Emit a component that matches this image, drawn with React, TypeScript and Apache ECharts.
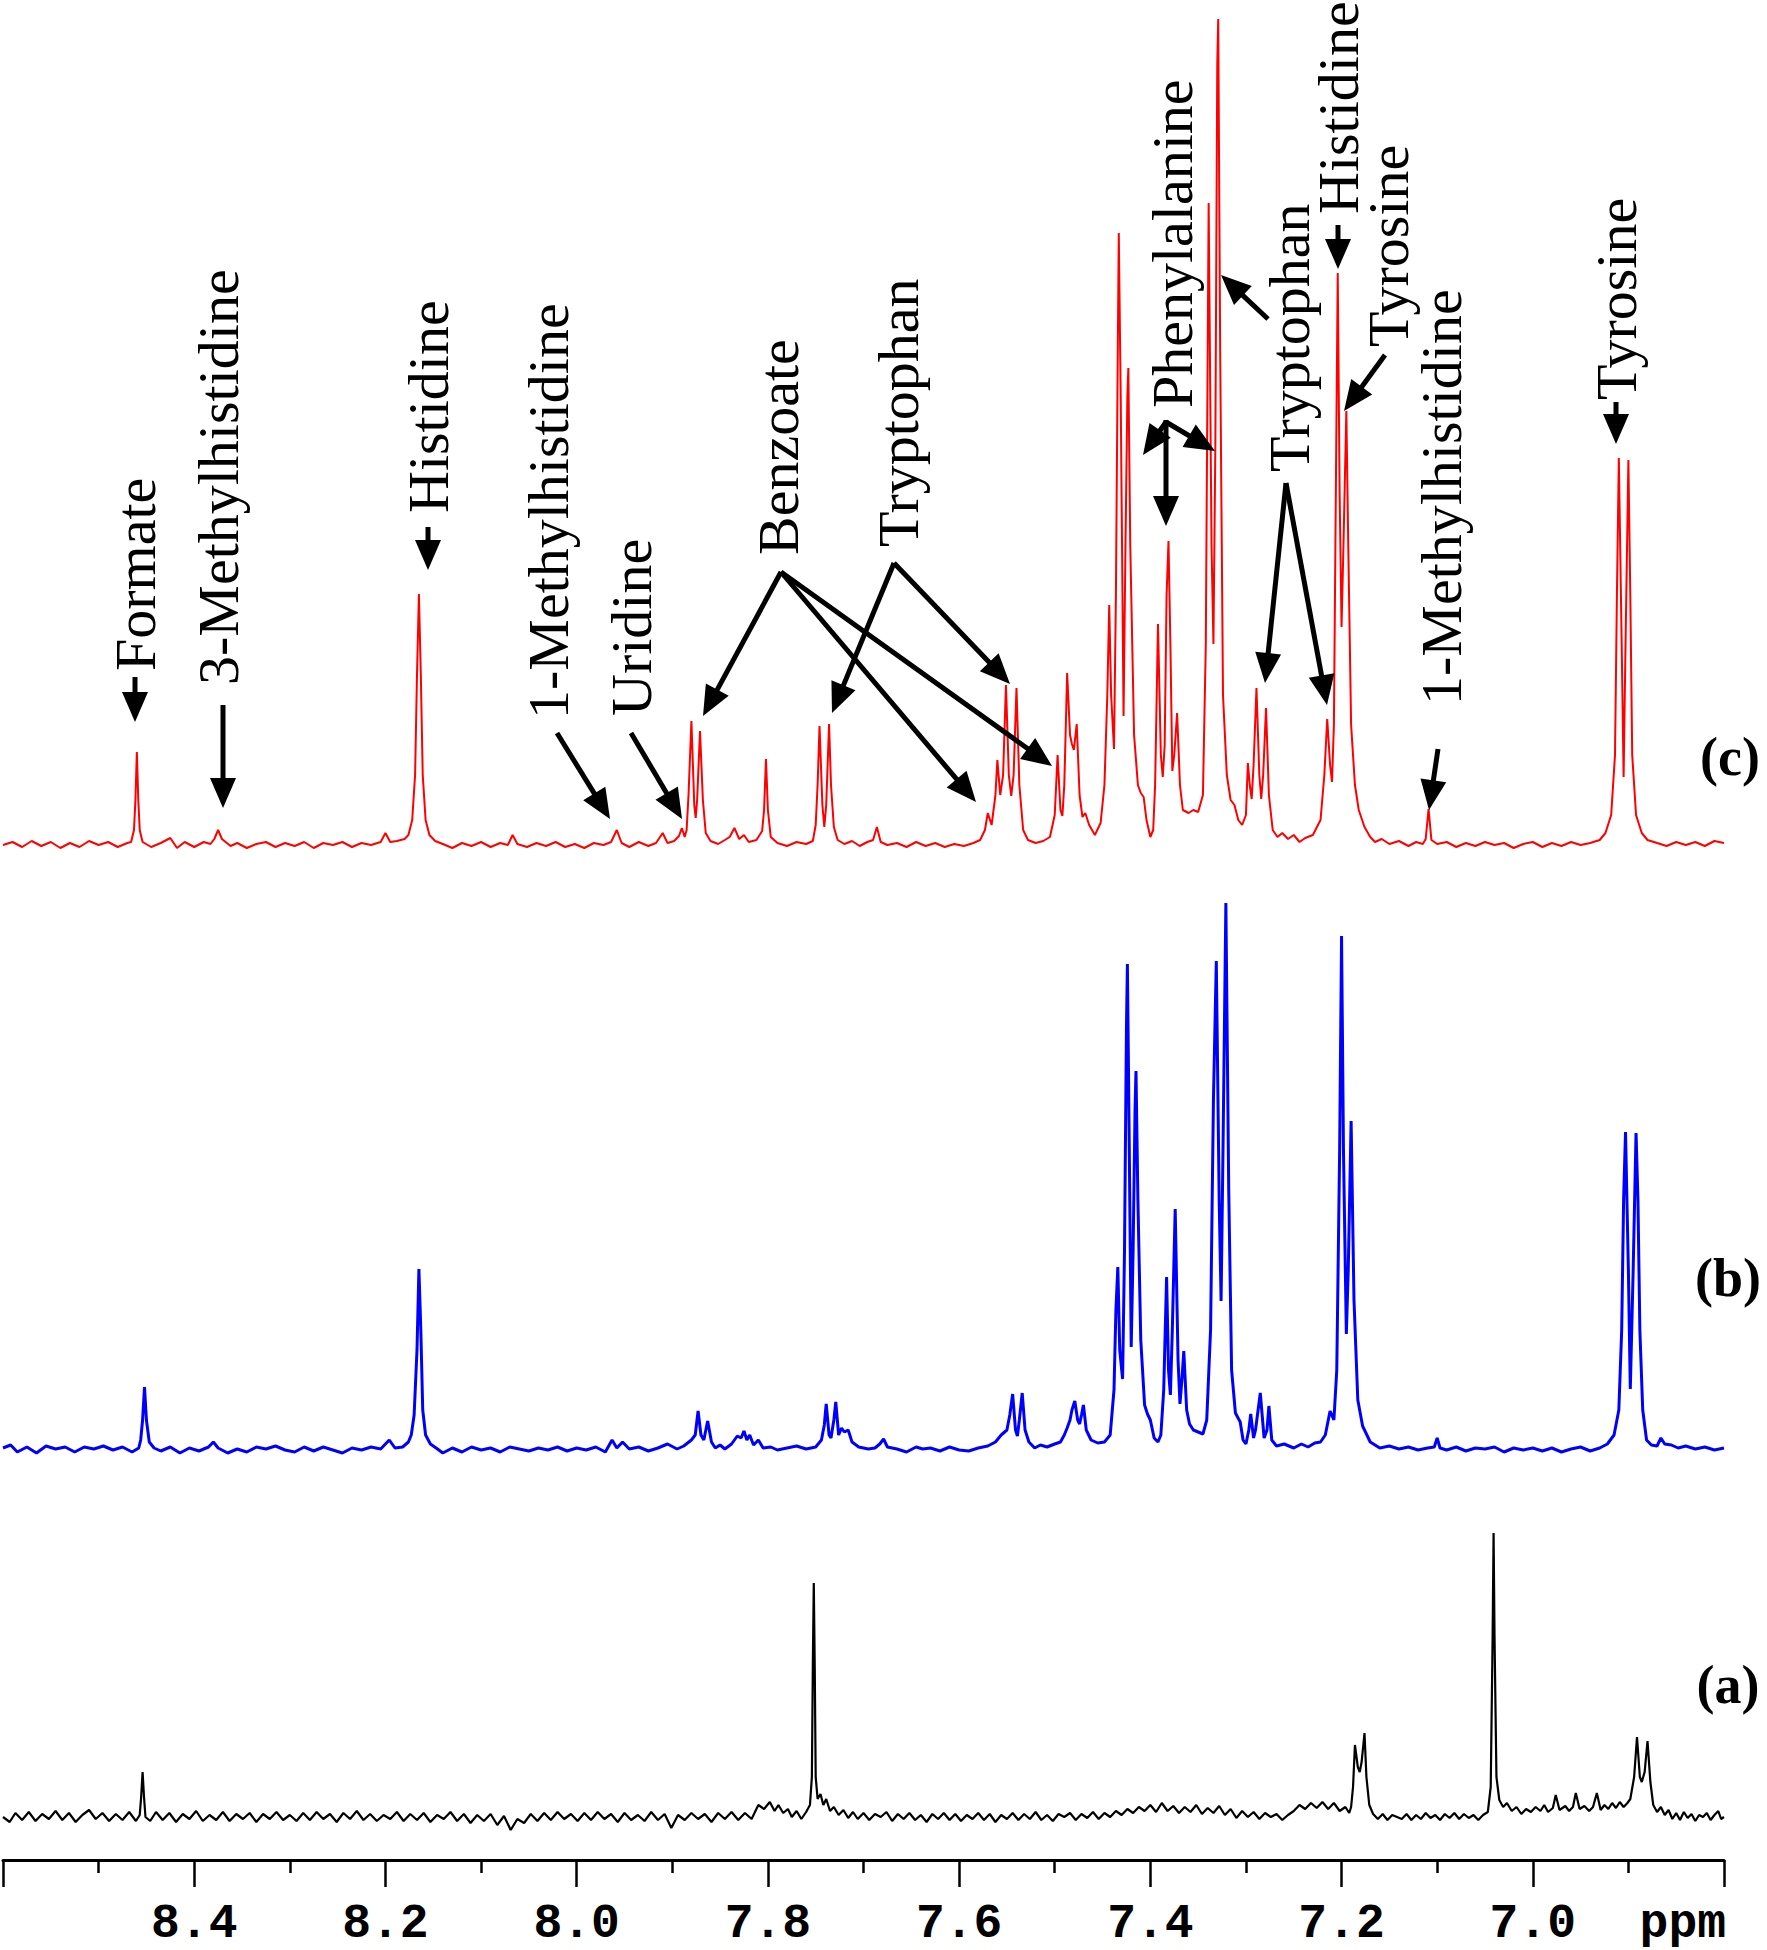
import React, { useEffect, useRef } from 'react';
import * as echarts from 'echarts';

// ppm, intensity (arbitrary units) — trace (c), red
const spectrumC: number[][] = [
[8.600,0],[8.590,3],[8.580,-2],[8.570,4],[8.560,-1],[8.550,3],[8.540,-3],[8.530,2],[8.520,-2],[8.510,4],[8.500,0],[8.490,3],[8.480,-2],[8.470,2],
[8.466,3],[8.463,15],[8.4615,45],[8.460,93],[8.4585,45],[8.457,15],[8.454,3],
[8.445,-2],[8.435,2],[8.425,7],[8.418,-3],[8.410,3],[8.400,-2],[8.390,3],[8.383,1],
[8.379,6],[8.375,15],[8.371,6],[8.362,-1],[8.355,2],[8.345,-3],[8.335,1],[8.325,3],[8.315,-2],[8.305,2],[8.295,-1],[8.285,3],[8.275,-3],[8.265,2],[8.255,0],[8.245,3],[8.235,-2],[8.225,2],[8.215,0],
[8.205,3],[8.200,12],[8.195,3],[8.188,4],[8.180,6],
[8.176,10],[8.172,25],[8.169,70],[8.167,170],[8.165,251],[8.163,170],[8.161,70],[8.158,25],[8.154,10],[8.148,4],
[8.140,1],[8.130,-3],[8.120,2],[8.110,-1],[8.100,3],[8.090,-2],[8.080,2],[8.072,0],[8.067,10],[8.062,1],[8.052,-2],[8.042,2],[8.032,-1],[8.022,3],[8.012,-2],[8.002,1],[7.992,-3],[7.982,2],[7.972,0],[7.964,3],[7.958,15],[7.953,2],[7.945,-2],[7.935,3],[7.925,-1],[7.917,2],[7.910,12],[7.905,2],[7.898,4],[7.893,9],[7.890,17],[7.887,8],
[7.885,15],[7.883,50],[7.880,124],[7.877,40],[7.8755,27],[7.874,45],[7.871,114],[7.868,45],[7.865,12],[7.860,4],
[7.852,1],[7.845,5],[7.840,8],[7.835,17],[7.830,6],[7.825,10],[7.820,3],[7.812,5],[7.806,14],[7.804,35],[7.802,86],[7.800,35],[7.797,8],[7.790,2],[7.780,-1],[7.770,3],[7.760,1],[7.753,4],
[7.750,20],[7.748,60],[7.746,119],[7.743,40],[7.741,18],[7.739,40],[7.736,121],[7.734,60],[7.731,18],[7.727,5],
[7.720,1],[7.712,4],[7.704,-1],[7.696,3],[7.690,5],[7.686,18],[7.682,3],[7.675,0],[7.665,2],[7.655,-2],[7.645,3],[7.635,-1],[7.625,2],[7.615,-2],[7.605,1],[7.595,-1],[7.585,2],[7.578,5],
[7.573,15],[7.570,32],[7.566,20],[7.562,50],[7.560,85],[7.557,50],[7.554,70],[7.551,160],[7.548,70],[7.5455,49],[7.543,70],[7.540,157],[7.537,60],[7.533,15],[7.528,5],
[7.520,2],[7.512,4],[7.505,8],[7.500,30],[7.497,90],[7.494,35],[7.492,29],[7.490,60],[7.487,172],[7.484,110],[7.482,101],[7.480,95],[7.477,121],[7.474,50],[7.471,28],[7.468,32],[7.464,20],[7.458,10],[7.452,22],
[7.448,60],[7.445,150],[7.443,240],[7.441,150],[7.438,96],[7.436,250],[7.434,500],[7.433,612],[7.431,450],[7.428,129],[7.426,300],[7.424,450],[7.423,477],[7.421,300],[7.417,110],[7.413,60],[7.410,52],[7.407,48],[7.404,25],[7.400,8],[7.397,15],[7.395,60],
[7.392,221],[7.389,90],[7.387,68],[7.385,100],[7.383,250],[7.381,304],[7.379,200],[7.377,74],[7.375,90],[7.372,132],[7.369,60],[7.366,35],[7.360,32],[7.355,35],[7.350,33],[7.345,50],[7.342,200],[7.339,642],[7.336,300],[7.334,201],[7.332,400],[7.330,780],[7.329,826],[7.327,500],[7.324,150],[7.320,70],[7.316,45],[7.312,40],[7.308,25],[7.304,20],[7.300,30],[7.298,82],[7.296,60],[7.294,46],[7.292,80],[7.289,157],[7.286,70],[7.284,46],[7.282,70],[7.279,137],[7.276,50],[7.272,15],[7.267,8],[7.262,12],[7.256,6],[7.250,10],[7.244,3],[7.238,7],[7.230,10],[7.222,25],
[7.218,70],[7.215,126],[7.212,80],[7.210,63],[7.208,120],[7.206,350],[7.204,572],[7.202,350],[7.200,218],[7.198,300],[7.195,434],[7.193,300],[7.190,120],[7.186,60],[7.182,35],[7.176,18],[7.170,8],[7.165,3],[7.158,6],[7.150,1],[7.140,4],[7.130,-1],[7.122,3],[7.115,1],[7.112,6],[7.109,36],[7.106,5],[7.100,1],[7.090,3],[7.080,-2],[7.070,2],[7.060,-1],[7.050,3],[7.040,0],[7.030,2],[7.020,-3],[7.010,1],[7.000,3],[6.990,-2],[6.980,2],[6.970,-1],[6.960,3],[6.950,0],[6.940,2],[6.930,5],[6.924,12],
[6.918,30],[6.914,90],[6.912,250],[6.910,387],[6.907,200],[6.905,68],[6.903,200],[6.900,385],[6.898,250],[6.896,90],[6.892,30],[6.886,12],[6.880,5],[6.870,2],[6.860,-1],[6.850,3],[6.840,0],[6.830,3],[6.820,-1],[6.810,4],[6.800,2]
];

// trace (b), blue
const spectrumB: number[][] = [
[8.600,2],[8.592,5],[8.585,-2],[8.575,3],[8.565,-3],[8.555,4],[8.545,1],[8.535,3],[8.525,-2],[8.515,3],[8.505,1],[8.495,4],[8.485,0],[8.475,3],[8.465,-2],[8.458,2],
[8.456,10],[8.454,30],[8.452,63],[8.450,30],[8.447,8],[8.442,2],[8.435,-1],[8.425,3],[8.415,-3],[8.405,2],[8.395,-1],[8.385,3],[8.380,8],[8.375,2],[8.365,-3],[8.355,1],[8.345,-2],[8.335,3],[8.325,1],[8.315,4],[8.305,0],[8.295,-2],[8.285,3],[8.275,-1],[8.265,3],[8.255,0],[8.245,-3],[8.235,2],[8.225,0],[8.215,3],[8.205,1],[8.196,10],[8.190,2],[8.182,3],[8.176,8],
[8.173,15],[8.170,35],[8.167,100],[8.165,181],[8.163,120],[8.161,40],[8.158,15],[8.153,6],[8.147,2],[8.140,-3],[8.130,2],[8.120,-2],[8.110,3],[8.100,0],[8.090,2],[8.080,-2],[8.070,3],[8.060,1],[8.050,-1],[8.040,2],[8.030,0],[8.020,3],[8.010,-1],[8.000,2],[7.990,0],[7.980,3],[7.970,-2],[7.963,10],[7.958,2],[7.952,8],[7.945,1],[7.935,3],[7.925,-1],[7.915,2],[7.905,6],[7.895,1],[7.888,4],[7.880,10],
[7.876,15],[7.873,39],[7.870,15],[7.867,10],[7.863,29],[7.859,8],[7.855,2],[7.850,5],[7.845,1],[7.838,6],[7.832,14],[7.828,12],[7.825,19],[7.822,10],[7.819,15],[7.815,5],[7.810,10],[7.805,2],[7.797,3],[7.790,0],[7.780,2],[7.770,4],[7.760,1],[7.750,3],[7.744,10],
[7.741,25],[7.739,46],[7.736,15],[7.734,12],[7.731,30],[7.729,48],[7.726,15],[7.723,22],[7.720,18],[7.716,20],[7.712,8],[7.705,3],[7.695,1],[7.688,2],[7.683,6],[7.679,11],[7.675,3],[7.665,1],[7.655,-2],[7.645,3],[7.638,1],[7.630,2],[7.620,-1],[7.610,3],[7.600,0],[7.590,-1],[7.580,2],[7.570,4],[7.562,8],[7.556,15],
[7.550,20],[7.547,35],[7.544,56],[7.541,20],[7.539,14],[7.537,30],[7.534,57],[7.531,20],[7.527,8],[7.521,2],[7.515,5],[7.508,3],[7.500,6],[7.494,8],[7.490,15],[7.487,22],[7.484,30],[7.482,40],[7.479,49],[7.476,30],[7.474,26],[7.472,35],[7.470,45],[7.467,20],[7.462,10],[7.455,7],[7.448,8],[7.442,15],[7.438,60],
[7.436,140],[7.434,183],[7.432,100],[7.429,71],[7.427,200],[7.425,420],[7.424,486],[7.422,300],[7.420,103],[7.418,200],[7.416,340],[7.415,379],[7.413,250],[7.410,110],[7.406,45],[7.403,36],[7.400,30],[7.396,12],[7.392,8],[7.389,15],[7.386,60],[7.383,173],[7.381,80],[7.379,55],[7.377,120],[7.374,241],[7.371,90],[7.369,46],[7.367,70],[7.365,99],[7.362,40],[7.359,26],[7.355,20],[7.350,18],[7.345,16],[7.341,30],[7.337,120],[7.334,350],[7.331,489],[7.328,250],[7.326,149],[7.324,300],[7.321,547],[7.318,260],[7.315,80],[7.311,37],[7.306,28],[7.303,10],[7.300,6],[7.297,20],[7.295,36],[7.292,12],[7.290,20],[7.285,57],[7.281,12],[7.278,20],[7.276,44],[7.273,10],[7.268,4],[7.260,6],[7.250,2],[7.242,6],[7.235,3],[7.228,7],[7.222,8],[7.217,15],[7.212,39],[7.208,30],[7.205,80],[7.202,300],[7.200,514],[7.198,300],[7.195,116],[7.193,180],[7.190,329],[7.187,150],[7.183,50],[7.178,24],[7.170,8],[7.160,2],[7.150,4],[7.140,1],[7.130,3],[7.120,0],[7.110,2],[7.103,3],[7.100,12],[7.097,2],[7.090,0],[7.080,3],[7.070,-1],[7.060,2],[7.050,1],[7.040,3],[7.030,-2],[7.020,2],[7.010,0],[7.000,2],[6.990,-1],[6.980,2],[6.970,-2],[6.960,1],[6.950,3],[6.940,-1],[6.930,2],[6.922,6],[6.915,15],
[6.910,40],[6.907,120],[6.905,250],[6.903,318],[6.900,180],[6.898,61],[6.895,180],[6.892,317],[6.890,250],[6.888,120],[6.885,40],[6.881,10],[6.876,5],[6.870,4],[6.866,12],[6.862,6],[6.855,5],[6.848,2],[6.840,4],[6.830,1],[6.820,3],[6.810,0],[6.800,2]
];

// trace (a), black
const spectrumA: number[][] = [
[8.600,0],[8.593,-5],[8.587,4],[8.580,-3],[8.573,5],[8.566,-4],[8.559,3],[8.552,-2],[8.545,6],[8.538,-3],[8.531,4],[8.524,-5],[8.517,2],[8.510,7],[8.503,-2],[8.496,4],[8.489,-4],[8.482,3],[8.475,-3],[8.468,5],[8.461,-4],[8.457,2],
[8.4555,20],[8.454,45],[8.4525,20],[8.451,0],[8.446,-4],[8.440,5],[8.433,-3],[8.426,4],[8.419,-5],[8.412,3],[8.405,-2],[8.398,6],[8.391,-4],[8.384,2],[8.377,-3],[8.370,5],[8.363,-4],[8.356,3],[8.349,-2],[8.342,4],[8.335,-5],[8.328,3],[8.321,-2],[8.314,5],[8.307,-3],[8.300,2],[8.293,-4],[8.286,4],[8.279,-3],[8.272,5],[8.265,-2],[8.258,3],[8.251,-5],[8.244,4],[8.237,-2],[8.230,6],[8.223,-3],[8.216,3],[8.209,-4],[8.202,2],[8.195,-2],[8.188,5],[8.181,-4],[8.174,3],[8.167,-3],[8.160,4],[8.153,-5],[8.146,2],[8.139,-2],[8.132,5],[8.125,-4],[8.118,3],[8.111,-6],[8.104,2],[8.097,-4],[8.090,3],[8.083,-8],[8.076,1],[8.069,-13],[8.062,-2],[8.055,-6],[8.048,3],[8.041,-4],[8.034,4],[8.027,-3],[8.020,5],[8.013,-2],[8.006,3],[7.999,-4],[7.992,4],[7.985,-3],[7.978,5],[7.971,-2],[7.964,3],[7.957,-5],[7.950,4],[7.943,-3],[7.936,2],[7.929,-4],[7.922,5],[7.915,-3],[7.908,3],[7.901,-11],[7.894,2],[7.887,-3],[7.880,4],[7.873,-2],[7.866,3],[7.859,-5],[7.852,4],[7.845,-2],[7.838,5],[7.831,-3],[7.824,4],[7.817,-2],[7.810,12],[7.804,8],[7.798,15],[7.793,6],[7.789,12],[7.784,4],[7.779,8],[7.775,0],[7.770,6],[7.765,-2],[7.760,5],[7.756,12],
[7.754,40],[7.753,150],[7.752,234],[7.751,150],[7.750,40],[7.748,18],[7.745,23],[7.742,12],[7.739,18],[7.735,6],[7.731,10],[7.726,2],[7.721,7],[7.716,-1],[7.711,5],[7.706,-2],[7.700,4],[7.694,-3],[7.688,3],[7.682,0],[7.676,5],[7.670,-4],[7.664,3],[7.658,-2],[7.652,4],[7.646,-3],[7.640,2],[7.634,-5],[7.628,3],[7.622,-2],[7.616,4],[7.610,-3],[7.604,3],[7.598,-4],[7.592,2],[7.586,-2],[7.580,4],[7.574,-3],[7.568,3],[7.562,-5],[7.556,2],[7.550,-2],[7.544,4],[7.538,-3],[7.532,3],[7.526,-2],[7.520,5],[7.514,-3],[7.508,2],[7.502,-4],[7.496,3],[7.490,0],[7.484,4],[7.478,-3],[7.472,3],[7.466,-1],[7.460,5],[7.454,-2],[7.448,4],[7.442,0],[7.436,6],[7.430,2],[7.424,8],[7.418,4],[7.412,10],[7.406,6],[7.400,12],[7.394,5],[7.388,14],[7.382,6],[7.376,11],[7.370,4],[7.364,10],[7.358,5],[7.352,12],[7.346,3],[7.340,9],[7.334,4],[7.328,11],[7.322,2],[7.316,8],[7.310,-1],[7.304,6],[7.298,0],[7.292,5],[7.286,-2],[7.280,4],[7.274,0],[7.268,3],[7.262,-3],[7.256,2],[7.250,6],[7.244,12],[7.238,8],[7.232,14],[7.226,9],[7.220,15],[7.214,8],[7.208,14],[7.202,6],[7.196,10],[7.192,4],[7.190,10],
[7.188,30],[7.186,72],[7.183,50],[7.181,45],[7.179,55],[7.176,84],[7.174,40],[7.171,12],[7.167,3],[7.162,-2],[7.157,3],[7.152,-3],[7.147,2],[7.142,0],[7.137,-2],[7.132,3],[7.127,-3],[7.122,2],[7.117,-2],[7.112,4],[7.107,-1],[7.102,2],[7.097,-3],[7.092,3],[7.087,-1],[7.082,4],[7.077,-2],[7.072,3],[7.067,-1],[7.062,2],[7.057,-3],[7.052,2],[7.047,5],
[7.044,30],[7.042,180],[7.041,284],[7.040,180],[7.038,40],[7.035,17],[7.031,10],[7.027,14],[7.022,6],[7.017,10],[7.012,3],[7.007,8],[7.002,5],[6.997,10],[6.992,6],[6.988,12],[6.984,5],[6.979,9],[6.976,22],[6.972,7],[6.966,11],[6.962,6],[6.958,10],[6.955,24],[6.951,8],[6.946,11],[6.941,6],[6.937,10],[6.933,24],[6.929,7],[6.925,12],[6.921,8],[6.917,14],[6.913,9],[6.909,15],[6.905,10],[6.901,14],[6.898,18],
[6.894,40],[6.891,80],[6.888,40],[6.886,35],[6.883,45],[6.880,76],[6.877,35],[6.874,12],[6.870,5],[6.866,10],[6.862,2],[6.858,7],[6.854,-2],[6.850,4],[6.846,-3],[6.842,5],[6.838,-1],[6.834,3],[6.830,-4],[6.826,2],[6.822,0],[6.818,4],[6.814,-3],[6.810,2],[6.806,6],[6.803,-2],[6.800,0]
];

const PPM_MIN = 6.8;
const PPM_MAX = 8.6;
const PPM_STEP = 0.2;

// annotation layout (pixels)
const annotationLabels = [
  { text: 'Formate', x: 135, y: 671 },
  { text: '3-Methylhistidine', x: 218, y: 685 },
  { text: 'Histidine', x: 428, y: 513 },
  { text: '1-Methylhistidine', x: 548, y: 719 },
  { text: 'Uridine', x: 631, y: 716 },
  { text: 'Benzoate', x: 778, y: 555 },
  { text: 'Tryptophan', x: 898, y: 547 },
  { text: 'Phenylalanine', x: 1172, y: 408 },
  { text: 'Tryptophan', x: 1289, y: 472 },
  { text: 'Histidine', x: 1338, y: 214 },
  { text: 'Tyrosine', x: 1388, y: 347 },
  { text: '1-Methylhistidine', x: 1441, y: 705 },
  { text: 'Tyrosine', x: 1616, y: 400 },
];

const annotationArrows = [
  [135, 677, 135, 722],
  [223, 705, 223, 808],
  [428, 527, 428, 570],
  [557, 733, 610, 819],
  [631, 733, 682, 819],
  [781, 572, 703, 716], [781, 572, 976, 802], [781, 572, 1052, 766],
  [894, 563, 832, 713], [894, 563, 1010, 684],
  [1166, 420, 1166, 526], [1166, 422, 1143, 455], [1166, 422, 1215, 451],
  [1286, 483, 1265, 683], [1286, 483, 1327, 705],
  [1268, 319, 1221, 275],
  [1338, 225, 1338, 269],
  [1385, 355, 1344, 411],
  [1438, 749, 1429, 810],
  [1616, 402, 1616, 444],
];

const panelLabels = [
  { text: '(c)', x: 1730, y: 757 },
  { text: '(b)', x: 1728, y: 1278 },
  { text: '(a)', x: 1728, y: 1685 },
];

function arrowElements(a: number[]) {
  const [x1, y1, x2, y2] = a;
  const dx = x2 - x1, dy = y2 - y1;
  const len = Math.sqrt(dx * dx + dy * dy);
  const ux = dx / len, uy = dy / len;
  const L = 30, W = 13;
  const bx = x2 - ux * L, by = y2 - uy * L;
  const nx = -uy, ny = ux;
  return [
    { type: 'line', z: 100, shape: { x1, y1, x2: bx + ux * 2, y2: by + uy * 2 }, style: { stroke: '#000', lineWidth: 5 } },
    { type: 'polygon', z: 100, shape: { points: [[x2, y2], [bx + nx * W, by + ny * W], [bx - nx * W, by - ny * W]] }, style: { fill: '#000' } },
  ];
}

export default function App() {
  const ref = useRef<HTMLDivElement>(null);
  useEffect(() => {
    document.body.style.margin = '0';
    const chart = echarts.init(ref.current!, undefined, { renderer: 'svg' });
    const LABEL_MARGIN = 40;
    const graphics: any[] = [];
    annotationLabels.forEach((l) => {
      graphics.push({
        type: 'text', z: 100, x: l.x, y: l.y, rotation: Math.PI / 2,
        style: { text: l.text, font: '58px "Liberation Serif"', fill: '#000', textAlign: 'left', textVerticalAlign: 'middle', align: 'left', verticalAlign: 'middle' },
      });
    });
    annotationArrows.forEach((a) => graphics.push(...arrowElements(a)));
    panelLabels.forEach((l) => {
      graphics.push({
        type: 'text', z: 100, x: l.x, y: l.y,
        style: { text: l.text, font: 'bold 54px "Liberation Serif"', fill: '#000', textAlign: 'center', textVerticalAlign: 'middle', align: 'center', verticalAlign: 'middle' },
      });
    });
    graphics.push({
      type: 'text', z: 100, x: 1726, y: 1860 + LABEL_MARGIN,
      style: { text: 'ppm', font: 'bold 48px "Liberation Mono"', fill: '#000', textAlign: 'right', textVerticalAlign: 'top', align: 'right', verticalAlign: 'top' },
    });

    const hiddenX = (i: number) => ({ gridIndex: i, type: 'value', min: PPM_MIN, max: PPM_MAX, inverse: true, show: false });
    chart.setOption({
      animation: false,
      backgroundColor: '#fff',
      grid: [
        { left: 3, right: 43, top: 0, height: 855 },
        { left: 3, right: 43, top: 870, height: 590 },
        { left: 3, right: 43, top: 1480, height: 380 },
      ],
      xAxis: [
        hiddenX(0),
        hiddenX(1),
        {
          gridIndex: 2, type: 'value', min: PPM_MIN, max: PPM_MAX, inverse: true, interval: PPM_STEP,
          axisLine: { show: true, onZero: false, lineStyle: { color: '#000', width: 3 } },
          axisTick: { show: true, inside: false, length: 27, lineStyle: { color: '#000', width: 2.5 } },
          minorTick: { show: true, splitNumber: 2, length: 13, lineStyle: { color: '#000', width: 2.5 } },
          splitLine: { show: false },
          minorSplitLine: { show: false },
          axisLabel: {
            margin: LABEL_MARGIN, color: '#000', fontFamily: 'Liberation Mono', fontWeight: 'bold', fontSize: 48,
            formatter: (v: number) => (v < PPM_MIN + 0.05 || v > PPM_MAX - 0.05 ? '' : v.toFixed(1)),
          },
        },
      ],
      yAxis: [
        { gridIndex: 0, type: 'value', min: -10, max: 845, show: false },
        { gridIndex: 1, type: 'value', min: -10, max: 580, show: false },
        { gridIndex: 2, type: 'value', min: -43, max: 337, show: false },
      ],
      series: [
        { type: 'line', xAxisIndex: 0, yAxisIndex: 0, data: spectrumC, showSymbol: false, symbol: 'none', lineStyle: { color: '#ff0000', width: 2 }, silent: true },
        { type: 'line', xAxisIndex: 1, yAxisIndex: 1, data: spectrumB, showSymbol: false, symbol: 'none', lineStyle: { color: '#0000ff', width: 3 }, silent: true },
        { type: 'line', xAxisIndex: 2, yAxisIndex: 2, data: spectrumA, showSymbol: false, symbol: 'none', lineStyle: { color: '#000000', width: 2.2 }, silent: true },
      ],
      graphic: graphics,
    });
    return () => chart.dispose();
  }, []);
  return <div ref={ref} style={{ width: 1767, height: 1950 }} />;
}
